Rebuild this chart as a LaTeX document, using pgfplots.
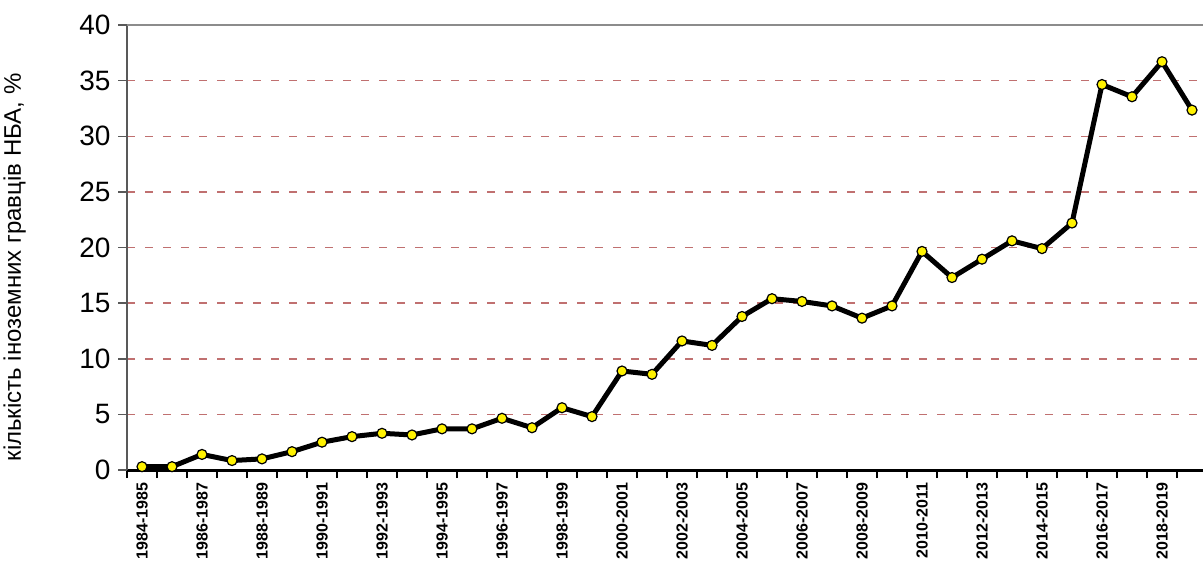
\documentclass[border=0pt]{standalone}
\usepackage{fontspec}
\setmainfont{Liberation Sans}
\usepackage{pgfplots}
\pgfplotsset{compat=1.18}
\usetikzlibrary{calc}
\definecolor{gridred}{RGB}{192,112,112}
\begin{document}
\begin{tikzpicture}
\begin{axis}[name=ax, scale only axis, width=1080pt, height=445pt,
  xmin=-0.5, xmax=35.5, ymin=0, ymax=40,
  axis x line*=bottom, axis y line*=left,
  x axis line style={black, line width=3pt},
  y axis line style={black!65, line width=2pt},
  ytick={0,5,...,40},
  ymajorgrids=true,
  major grid style={gridred, dash pattern=on 8pt off 10pt, line width=1.5pt},
  xtick={0,2,...,34},
  xticklabels={1984-1985,1986-1987,1988-1989,1990-1991,1992-1993,1994-1995,1996-1997,1998-1999,2000-2001,2002-2003,2004-2005,2006-2007,2008-2009,2010-2011,2012-2013,2014-2015,2016-2017,2018-2019},
  minor xtick={-0.5,0.5,...,35.5},
  tick align=outside,
  major tick length=9pt, minor tick length=8pt,
  major x tick style={draw=none},
  minor x tick style={black, line width=2.5pt},
  major y tick style={black!65, line width=1.5pt},
  /pgf/number format/assume math mode=true,
  yticklabel style={font=\fontsize{28}{30}\selectfont, xshift=-4pt},
  xticklabel style={rotate=90, anchor=east, font=\bfseries\fontsize{16}{16}\selectfont, yshift=0pt},
  ylabel={кількість іноземних гравців НБА, \%},
  ylabel style={font=\fontsize{24}{25}\selectfont, at={(axis description cs:-0.104,0.455)}, rotate=0, anchor=center},
]
\addplot[black, line width=5pt, mark=*, mark size=5pt,
  mark options={fill=yellow, draw=black, line width=1.2pt}] coordinates {
(0,0.3) (1,0.3) (2,1.4) (3,0.85) (4,1.0) (5,1.65) (6,2.5) (7,3.0) (8,3.3) (9,3.15)
(10,3.7) (11,3.7) (12,4.65) (13,3.8) (14,5.6) (15,4.8) (16,8.9) (17,8.6) (18,11.6) (19,11.2)
(20,13.8) (21,15.4) (22,15.15) (23,14.75) (24,13.65) (25,14.75) (26,19.65) (27,17.3) (28,18.95) (29,20.6)
(30,19.9) (31,22.2) (32,34.65) (33,33.55) (34,36.7) (35,32.35)
};
\end{axis}
\draw[black!45, line width=2pt] (ax.north west) -- (ax.north east);
\pgfresetboundingbox
\path ($(ax.south west)+(-127pt,-91pt)$) rectangle ($(ax.north east)+(-4pt,25pt)$);
\end{tikzpicture}
\end{document}
